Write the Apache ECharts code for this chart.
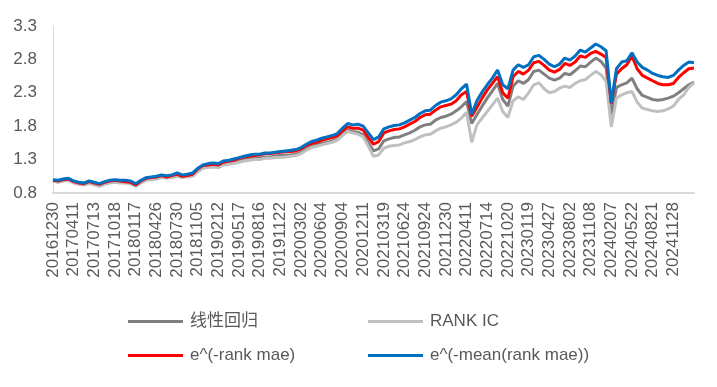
<!DOCTYPE html>
<html>
<head>
<meta charset="utf-8">
<script src="https://cdn.jsdelivr.net/npm/echarts@6/dist/echarts.min.js"></script>
<style>
html,body{margin:0;padding:0;background:#fff;}
#c{width:717px;height:387px;}
</style>
</head>
<body>
<div id="c"></div>
<script>
const dates = [
'20161230','20170124','20170222','20170316',
'20170411','20170504','20170526','20170620',
'20170713','20170803','20170825','20170918',
'20171018','20171109','20171201','20171225',
'20180117','20180208','20180315','20180404',
'20180426','20180521','20180612','20180706',
'20180730','20180821','20180912','20181012',
'20181105','20181127','20181219','20190115',
'20190212','20190307','20190329','20190424',
'20190517','20190610','20190703','20190725',
'20190816','20190906','20191008','20191030',
'20191122','20191216','20200108','20200207',
'20200302','20200324','20200420','20200514',
'20200604','20200629','20200722','20200813',
'20200904','20200928','20201028','20201119',
'20201211','20210104','20210126','20210224',
'20210319','20210412','20210507','20210531',
'20210624','20210716','20210809','20210831',
'20210924','20211022','20211115','20211207',
'20211230','20220124','20220224','20220318',
'20220411','20220506','20220530','20220622',
'20220714','20220805','20220829','20220921',
'20221020','20221111','20221205','20221227',
'20230119','20230217','20230313','20230404',
'20230427','20230523','20230615','20230711',
'20230802','20230824','20230915','20231017',
'20231108','20231130','20231222','20240116',
'20240207','20240306','20240328','20240425',
'20240522','20240613','20240705','20240729',
'20240821','20240912','20241017','20241108',
'20241128','20241220','20250115','20250213','20250310'
];

const tickLabels = [
'20161230','20170411','20170713','20171018','20180117','20180426','20180730','20181105',
'20190212','20190517','20190816','20191122','20200302','20200604','20200904','20201211',
'20210319','20210624','20210924','20211230','20220411','20220714','20221020','20230119',
'20230427','20230802','20231108','20240207','20240522','20240821','20241128'
];

const linearReg = [
0.98,0.97,0.99,1.00,0.96,0.94,0.93,0.95,0.93,0.91,
0.94,0.96,0.97,0.96,0.96,0.95,0.91,0.96,1.00,1.01,
1.02,1.04,1.03,1.04,1.06,1.04,1.05,1.06,1.13,1.18,
1.20,1.21,1.19,1.23,1.24,1.26,1.28,1.30,1.31,1.32,
1.32,1.34,1.34,1.35,1.36,1.37,1.37,1.38,1.41,1.46,
1.50,1.52,1.54,1.56,1.58,1.61,1.68,1.74,1.72,1.71,
1.67,1.55,1.43,1.46,1.58,1.61,1.63,1.64,1.67,1.70,
1.74,1.79,1.82,1.83,1.89,1.93,1.95,1.98,2.03,2.09,
2.17,1.84,1.97,2.10,2.22,2.33,2.44,2.20,2.10,2.40,
2.48,2.44,2.50,2.62,2.64,2.58,2.52,2.49,2.52,2.59,
2.57,2.63,2.70,2.69,2.76,2.82,2.77,2.67,1.97,2.38,
2.42,2.45,2.52,2.36,2.26,2.23,2.20,2.19,2.20,2.22,
2.25,2.30,2.36,2.42,2.46
];

const rankIC = [
0.98,0.96,0.98,0.99,0.95,0.93,0.92,0.94,0.92,0.90,
0.93,0.95,0.96,0.95,0.95,0.94,0.90,0.95,0.99,1.00,
1.01,1.03,1.02,1.03,1.05,1.03,1.04,1.05,1.12,1.17,
1.18,1.19,1.18,1.22,1.23,1.24,1.26,1.28,1.29,1.30,
1.30,1.32,1.32,1.33,1.33,1.34,1.35,1.36,1.39,1.44,
1.48,1.50,1.52,1.54,1.56,1.59,1.66,1.72,1.70,1.68,
1.64,1.50,1.35,1.37,1.47,1.50,1.51,1.52,1.55,1.57,
1.60,1.64,1.67,1.68,1.73,1.77,1.79,1.82,1.86,1.92,
2.01,1.56,1.82,1.92,2.02,2.12,2.22,2.02,1.93,2.18,
2.24,2.20,2.30,2.42,2.45,2.36,2.30,2.32,2.37,2.40,
2.38,2.44,2.48,2.50,2.56,2.62,2.57,2.47,1.79,2.22,
2.27,2.30,2.32,2.16,2.07,2.05,2.03,2.02,2.03,2.06,
2.10,2.20,2.27,2.38,2.45
];

const rankMae = [
0.99,0.98,1.00,1.01,0.97,0.95,0.94,0.97,0.95,0.93,
0.96,0.98,0.99,0.98,0.97,0.96,0.92,0.98,1.02,1.03,
1.04,1.06,1.04,1.06,1.08,1.05,1.06,1.08,1.16,1.21,
1.22,1.23,1.22,1.26,1.28,1.29,1.32,1.34,1.35,1.36,
1.37,1.39,1.39,1.40,1.41,1.42,1.42,1.43,1.46,1.51,
1.54,1.56,1.59,1.61,1.63,1.66,1.73,1.79,1.77,1.77,
1.74,1.63,1.53,1.57,1.70,1.73,1.75,1.76,1.79,1.83,
1.87,1.93,1.97,1.98,2.04,2.09,2.11,2.13,2.18,2.27,
2.32,1.95,2.08,2.22,2.34,2.44,2.54,2.30,2.22,2.54,
2.62,2.58,2.64,2.75,2.77,2.71,2.64,2.61,2.65,2.74,
2.71,2.76,2.85,2.83,2.89,2.92,2.88,2.83,2.14,2.58,
2.66,2.72,2.85,2.66,2.56,2.52,2.48,2.44,2.42,2.42,
2.44,2.53,2.60,2.66,2.67
];

const meanRankMae = [
1.00,0.99,1.01,1.02,0.98,0.96,0.95,0.98,0.96,0.94,
0.97,0.99,1.00,0.99,0.99,0.98,0.94,0.99,1.03,1.04,
1.05,1.07,1.06,1.07,1.10,1.07,1.08,1.10,1.17,1.22,
1.24,1.25,1.24,1.28,1.29,1.31,1.33,1.35,1.37,1.38,
1.38,1.40,1.40,1.41,1.42,1.43,1.44,1.45,1.48,1.53,
1.57,1.59,1.62,1.64,1.66,1.69,1.77,1.84,1.82,1.83,
1.80,1.70,1.60,1.64,1.76,1.79,1.81,1.82,1.85,1.89,
1.93,1.99,2.03,2.04,2.11,2.16,2.18,2.21,2.27,2.36,
2.43,1.98,2.18,2.31,2.42,2.52,2.64,2.42,2.36,2.64,
2.72,2.68,2.72,2.84,2.86,2.80,2.73,2.69,2.73,2.82,
2.79,2.85,2.94,2.91,2.97,3.03,2.99,2.93,2.15,2.66,
2.76,2.78,2.90,2.76,2.68,2.64,2.59,2.56,2.54,2.53,
2.56,2.64,2.71,2.76,2.75
];

const seriesNames = ['线性回归','RANK IC','e^(-rank mae)','e^(-mean(rank mae))'];
const seriesColors = ['#808080','#c0c0c0','#ff0000','#0070c0'];
const seriesData = [linearReg, rankIC, rankMae, meanRankMae];

const FONT = '"Liberation Sans", Arial, "Noto Sans CJK SC", sans-serif';
const TXT = '#595959';

const chart = echarts.init(document.getElementById('c'), null, {renderer:'canvas'});

const legendPos = [
  {left:128, top:313},
  {left:368, top:313},
  {left:128, top:347},
  {left:368, top:347}
];

const option = {
  animation: false,
  backgroundColor: '#ffffff',
  grid: {left:53, right:23, top:26, bottom:194, containLabel:false},
  legend: seriesNames.map((n,i)=>({
    data:[n],
    left: legendPos[i].left,
    top: legendPos[i].top,
    icon: 'rect',
    itemWidth: 55,
    itemHeight: 3,
    itemGap: 0,
    padding: 0,
    textStyle: {color: TXT, fontSize: 17, fontFamily: FONT, padding:[0,0,0,2]},
    selectedMode: false
  })),
  xAxis: {
    type: 'category',
    data: dates,
    boundaryGap: false,
    axisLine: {show:true, lineStyle:{color:'#d9d9d9', width:2}},
    axisTick: {show:false},
    splitLine: {show:false},
    axisLabel: {
      rotate: 90,
      margin: 9,
      color: TXT,
      fontSize: 17,
      fontFamily: FONT,
      interval: function(idx, val){ return tickLabels.indexOf(val) >= 0; }
    }
  },
  yAxis: {
    type: 'value',
    min: 0.8,
    max: 3.3,
    interval: 0.5,
    axisLine: {show:true, lineStyle:{color:'#d9d9d9', width:1}},
    axisTick: {show:false},
    splitLine: {show:false},
    axisLabel: {
      margin: 16,
      color: TXT,
      fontSize: 17,
      fontFamily: FONT,
      formatter: v => v.toFixed(1)
    }
  },
  series: seriesNames.map((n,i)=>({
    name: n,
    type: 'line',
    data: seriesData[i],
    symbol: 'none',
    smooth: false,
    lineStyle: {color: seriesColors[i], width: 3},
    itemStyle: {color: seriesColors[i]},
    z: 2 + i
  }))
};
chart.setOption(option);
</script>
</body>
</html>
